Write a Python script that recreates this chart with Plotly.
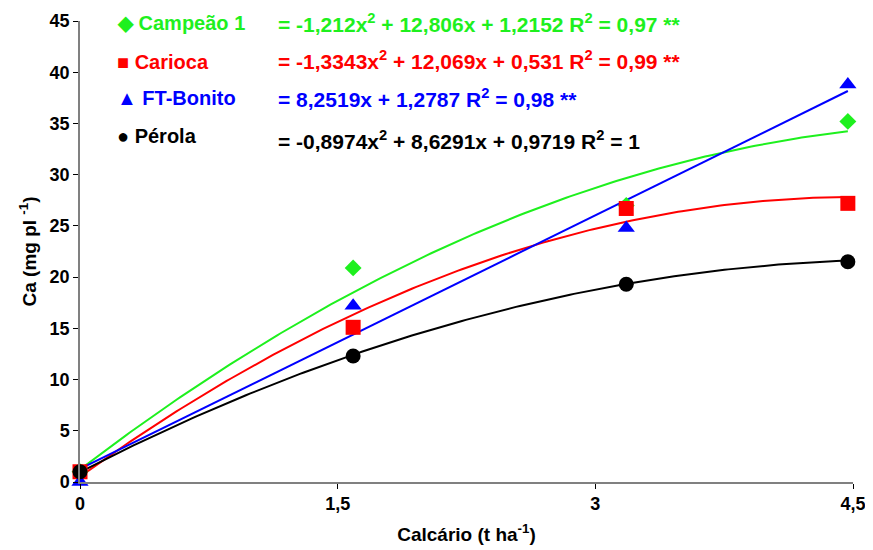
import numpy as np
import plotly.graph_objects as go

# ---- data ----
doses = [0, 1.59, 3.18, 4.47]
series_names = ["Campeão 1", "Carioca", "FT-Bonito", "Pérola"]
campeao = [1.0, 20.9, 27.0, 35.2]
carioca = [1.0, 15.1, 26.7, 27.2]
ft_bonito = [0.0, 17.2, 24.8, 38.8]
perola = [1.0, 12.3, 19.3, 21.5]
# trend-line coefficients (a, b, c) for a*x^2 + b*x + c, as printed on the chart
coef_campeao = [-1.212, 12.806, 1.2152]
coef_carioca = [-1.3343, 12.069, 0.531]
coef_ft_bonito = [0.0, 8.2519, 1.2787]
coef_perola = [-0.8974, 8.6291, 0.9719]
equations = [
    "= -1,212x<sup>2</sup> + 12,806x + 1,2152 R<sup>2</sup> = 0,97 **",
    "= -1,3343x<sup>2</sup> + 12,069x + 0,531 R<sup>2</sup> = 0,99 **",
    "= 8,2519x + 1,2787 R<sup>2</sup> = 0,98 **",
    "= -0,8974x<sup>2</sup> + 8,6291x + 0,9719 R<sup>2</sup> = 1",
]
x_tickvals = [0, 1.5, 3, 4.5]
x_ticktext = ["0", "1,5", "3", "4,5"]
y_tickvals = [0, 5, 10, 15, 20, 25, 30, 35, 40, 45]

colors = ["#1EF01E", "#FF0000", "#0000FF", "#000000"]
symbols = ["diamond", "square", "triangle-up", "circle"]
sizes = [13, 15, 15, 15]
glyphs = ["◆", "■", "▲", "●"]
values = [campeao, carioca, ft_bonito, perola]
coefs = [coef_campeao, coef_carioca, coef_ft_bonito, coef_perola]

FONT = "Liberation Sans, Arial, sans-serif"

fig = go.Figure()

xs = np.linspace(doses[0], doses[-1], 200)
for name, c, col in zip(series_names, coefs, colors):
    ys = np.polyval(c, xs)
    fig.add_trace(go.Scatter(x=xs, y=ys, mode="lines", line=dict(color=col, width=2),
                             showlegend=False, hoverinfo="skip", cliponaxis=False))

for name, v, col, sym, sz in zip(series_names, values, colors, symbols, sizes):
    fig.add_trace(go.Scatter(x=doses, y=v, mode="markers", name=name,
                             marker=dict(color=col, symbol=sym, size=sz, line=dict(width=0)),
                             showlegend=False, cliponaxis=False))

# legend-like labels and equations
name_y = [0.995, 0.91, 0.832, 0.75]
eq_y = [0.995, 0.915, 0.832, 0.742]
for i in range(4):
    fig.add_annotation(xref="paper", yref="paper", x=0.045, y=name_y[i], xanchor="left", yanchor="middle",
                       text=f"<span style='font-size:20px'>{glyphs[i]}</span> {series_names[i]}",
                       showarrow=False, font=dict(family=FONT, size=20, color=colors[i], weight="bold"))
    fig.add_annotation(xref="paper", yref="paper", x=0.253, y=eq_y[i], xanchor="left", yanchor="middle",
                       text=equations[i],
                       showarrow=False, font=dict(family=FONT, size=21, color=colors[i], weight="bold"))

fig.update_layout(
    width=865, height=542,
    margin=dict(l=72, r=20, t=13, b=68, autoexpand=False),
    paper_bgcolor="white", plot_bgcolor="white",
    font=dict(family=FONT, color="black"),
    xaxis=dict(range=[0, 4.5], tickvals=x_tickvals, ticktext=x_ticktext, automargin=False,
               showgrid=False, zeroline=False, showline=True, linecolor="#808080", linewidth=1.5,
               ticks="outside", ticklen=5, tickcolor="#000000",
               tickfont=dict(family=FONT, size=18, weight="bold"),
               title=dict(text="Calcário (t ha<sup>-1</sup>)", standoff=14,
                          font=dict(family=FONT, size=19, weight="bold"))),
    yaxis=dict(range=[0, 45], tickvals=y_tickvals, automargin=False,
               showgrid=False, zeroline=False, showline=True, linecolor="#808080", linewidth=1.5,
               ticks="outside", ticklen=5, tickcolor="#000000",
               tickfont=dict(family=FONT, size=18, weight="bold"),
               title=dict(text="Ca (mg pl <sup>-1</sup>)", standoff=8,
                          font=dict(family=FONT, size=19, weight="bold"))),
)

fig.write_html("out.html")
